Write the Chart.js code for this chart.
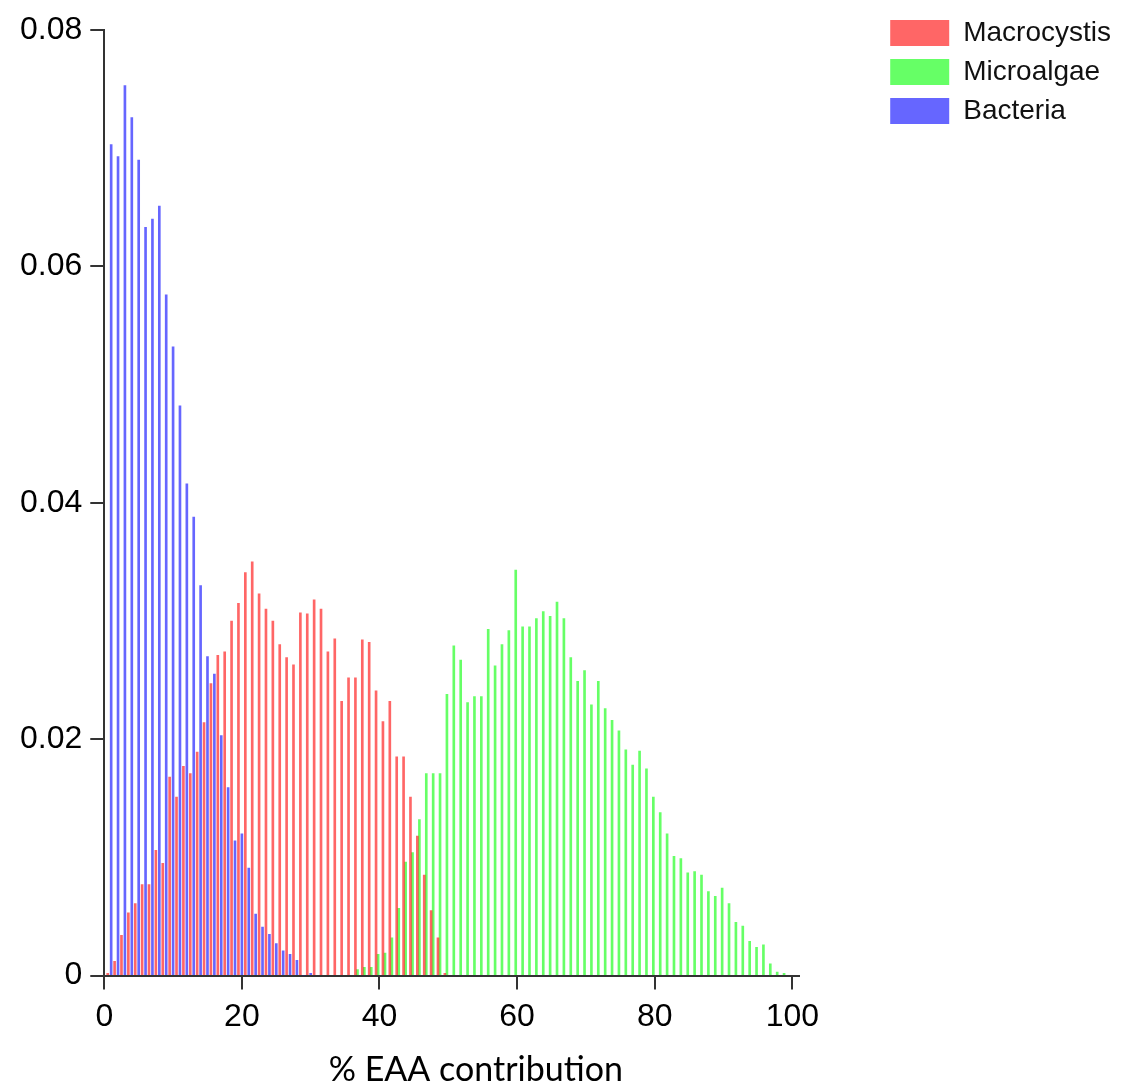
<!DOCTYPE html>
<html>
<head>
<meta charset="utf-8">
<script src="https://cdn.jsdelivr.net/npm/chart.js@4"></script>
<style>
  html, body { margin: 0; padding: 0; background: #fff; }
  #wrap { width: 1121px; height: 1086px; }
</style>
</head>
<body>
<div id="wrap"><canvas id="eaaChart"></canvas></div>
<script>
// histogram bins (% EAA contribution) and density per source
const macroBins = [0.5, 1.5, 2.5, 3.5, 4.5, 5.5, 6.5, 7.5, 8.5, 9.5,
  10.5, 11.5, 12.5, 13.5, 14.5, 15.5, 16.5, 17.5, 18.5, 19.5,
  20.5, 21.5, 22.5, 23.5, 24.5, 25.5, 26.5, 27.5, 28.5, 29.5,
  30.5, 31.5, 32.5, 33.5, 34.5, 35.5, 36.5, 37.5, 38.5, 39.5,
  40.5, 41.5, 42.5, 43.5, 44.5, 45.5, 46.5, 47.5, 48.5, 49.5];
const macroValues = [0.0002, 0.0012, 0.0034, 0.0053, 0.0061, 0.0077, 0.0077, 0.0106, 0.0095, 0.0168,
  0.0151, 0.0177, 0.0171, 0.0189, 0.0214, 0.0247, 0.0271, 0.0274, 0.0300, 0.0315,
  0.0341, 0.0350, 0.0323, 0.0310, 0.0300, 0.0280, 0.0269, 0.0263, 0.0307, 0.0306,
  0.0318, 0.0310, 0.0274, 0.0285, 0.0232, 0.0252, 0.0252, 0.0284, 0.0282, 0.0241,
  0.0215, 0.0232, 0.0185, 0.0185, 0.0151, 0.0118, 0.0085, 0.0055, 0.0032, 0.0002];

const microBins = [36.8, 37.8, 38.8, 39.8, 40.8, 41.8, 42.8, 43.8, 44.8, 45.8,
  46.8, 47.8, 48.8, 49.8, 50.8, 51.8, 52.8, 53.8, 54.8, 55.8,
  56.8, 57.8, 58.8, 59.8, 60.8, 61.8, 62.8, 63.8, 64.8, 65.8,
  66.8, 67.8, 68.8, 69.8, 70.8, 71.8, 72.8, 73.8, 74.8, 75.8,
  76.8, 77.8, 78.8, 79.8, 80.8, 81.8, 82.8, 83.8, 84.8, 85.8,
  86.8, 87.8, 88.8, 89.8, 90.8, 91.8, 92.8, 93.8, 94.8, 95.8,
  96.8, 97.8, 98.8];
const microValues = [0.0005, 0.0007, 0.0007, 0.0018, 0.0019, 0.0032, 0.0057, 0.0096, 0.0104, 0.0132,
  0.0171, 0.0171, 0.0171, 0.0238, 0.0279, 0.0267, 0.0231, 0.0236, 0.0236, 0.0293,
  0.0262, 0.0280, 0.0292, 0.0343, 0.0295, 0.0295, 0.0302, 0.0308, 0.0304, 0.0316,
  0.0302, 0.0269, 0.0249, 0.0258, 0.0229, 0.0249, 0.0226, 0.0216, 0.0207, 0.0191,
  0.0178, 0.0190, 0.0175, 0.0151, 0.0138, 0.0120, 0.0101, 0.0099, 0.0087, 0.0088,
  0.0085, 0.0071, 0.0067, 0.0074, 0.0061, 0.0045, 0.0042, 0.0029, 0.0024, 0.0026,
  0.0010, 0.0003, 0.0002];

const bactBins = [1, 2, 3, 4, 5, 6, 7, 8, 9, 10,
  11, 12, 13, 14, 15, 16, 17, 18, 19, 20,
  21, 22, 23, 24, 25, 26, 27, 28, 29, 30];
const bactValues = [0.0703, 0.0693, 0.0753, 0.0726, 0.0690, 0.0633, 0.0640, 0.0651, 0.0576, 0.0532,
  0.0482, 0.0416, 0.0388, 0.0330, 0.0270, 0.0255, 0.0203, 0.0159, 0.0114, 0.0120,
  0.0091, 0.0052, 0.0041, 0.0035, 0.0027, 0.0021, 0.0018, 0.0013, 0, 0.0002];

const yTicks = [0, 0.02, 0.04, 0.06, 0.08];
const xTitle = "% EAA contribution";

const toPoints = (bins, vals) => bins.map((b, i) => ({ x: b, y: vals[i] }));

// axis title sits a bit right of centre in the original, so draw it by hand
const xTitlePlugin = {
  id: "xTitle",
  afterDraw(chart) {
    const { ctx, scales } = chart;
    ctx.save();
    ctx.font = "34px Lato";
    ctx.fillStyle = "#000";
    ctx.textAlign = "center";
    ctx.textBaseline = "middle";
    ctx.fillText(xTitle, scales.x.getPixelForValue(54), 1070);
    ctx.restore();
  }
};

const axisLine = { display: true, color: "#333", width: 2 };
const tickMarks = { display: true, offset: false, drawOnChartArea: false, drawTicks: true, tickLength: 14, color: "#333", lineWidth: 2 };
const tickFont = { family: "Liberation Sans", size: 32 };

const ctx = document.getElementById("eaaChart").getContext("2d");

new Chart(ctx, {
  type: "bar",
  data: {
    datasets: [
      { label: "Macrocystis", data: toPoints(macroBins, macroValues), backgroundColor: "rgba(255,0,0,0.6)" },
      { label: "Microalgae", data: toPoints(microBins, microValues), backgroundColor: "rgba(0,255,0,0.6)" },
      { label: "Bacteria", data: toPoints(bactBins, bactValues), backgroundColor: "rgba(0,0,255,0.6)" }
    ]
  },
  options: {
    responsive: true,
    maintainAspectRatio: false,
    animation: false,
    layout: { padding: { top: 8, left: 12, right: 0, bottom: 42 } },
    datasets: { bar: { barThickness: 2, grouped: false } },
    scales: {
      x: {
        type: "linear",
        min: 0,
        max: 101,
        offset: false,
        border: axisLine,
        grid: tickMarks,
        ticks: { stepSize: 20, includeBounds: false, padding: 8, color: "#000", font: tickFont }
      },
      y: {
        min: 0,
        max: 0.08,
        border: axisLine,
        grid: tickMarks,
        afterBuildTicks: (axis) => { axis.ticks = yTicks.map(v => ({ value: v })); },
        afterFit: (axis) => { axis.paddingTop = 30; },
        ticks: {
          padding: 8,
          color: "#000",
          font: tickFont,
          callback: (v) => (v === 0 ? "0" : v.toFixed(2))
        }
      },
      // spacer between plot and legend
      gap: {
        position: "right",
        display: true,
        grid: { display: false },
        border: { display: false },
        ticks: { display: false },
        afterFit: (scale) => { scale.width = 80; }
      }
    },
    plugins: {
      legend: {
        position: "right",
        align: "start",
        maxWidth: 300,
        labels: {
          boxWidth: 59,
          boxHeight: 26,
          padding: 11,
          color: "#111",
          font: { family: "Liberation Sans", size: 28 }
        }
      },
      tooltip: { enabled: false }
    }
  },
  plugins: [xTitlePlugin]
});
</script>
</body>
</html>
